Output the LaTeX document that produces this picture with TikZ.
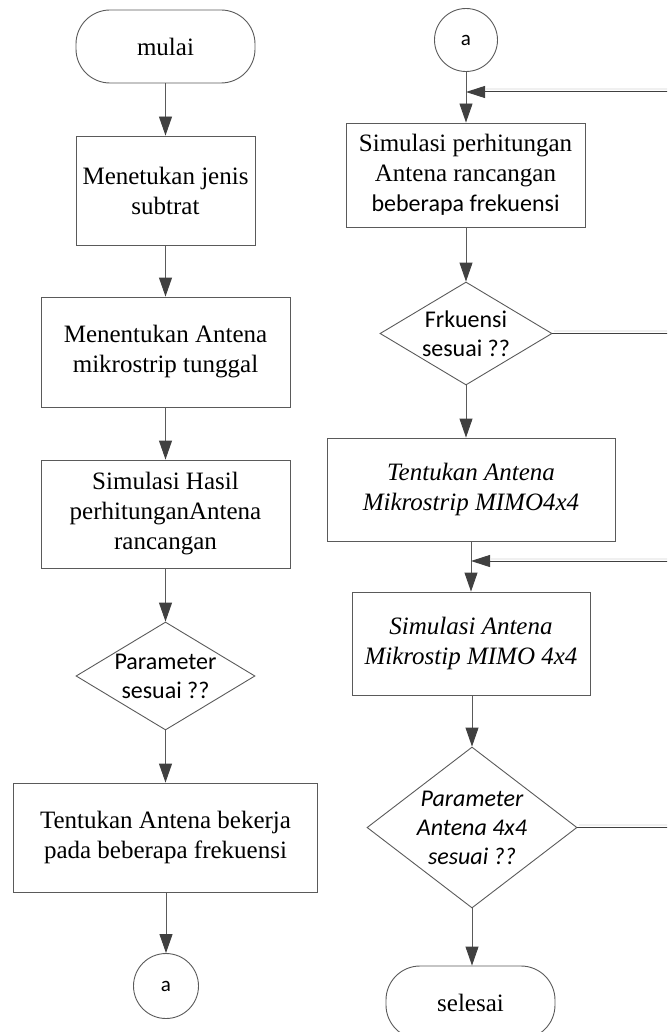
\documentclass[tikz,border=0pt]{standalone}
\usepackage{fontspec}
\setmainfont{Liberation Serif}
\newfontfamily\calf{Carlito}
\usetikzlibrary{shapes.geometric,arrows.meta}
\definecolor{lc}{HTML}{5A5A5A}
\definecolor{tc}{HTML}{404040}
\definecolor{shc}{HTML}{F0F0F0}
\begin{document}
\begin{tikzpicture}[x=1pt,y=-1pt,
  box/.style={draw=lc, line width=0.9pt, inner sep=0pt, align=center, font=\fontsize{25pt}{30pt}\selectfont},
  proc/.style={box, rectangle},
  term/.style={box, rectangle, rounded corners=34pt},
  dec/.style={box, diamond},
  conn/.style={box, circle, font=\calf\fontsize{21pt}{24pt}\selectfont},
  dtext/.style={draw=none, inner sep=0pt, align=center, font=\calf\fontsize{24pt}{29pt}\selectfont},
  arr/.style={draw=lc, line width=0.9pt, -{Triangle[length=19pt,width=13pt,color=tc]}},
  arrh/.style={draw=tc, line width=1pt, -{Triangle[length=19pt,width=12pt,color=tc]}},
  link/.style={draw=tc, line width=1pt},
  shline/.style={draw=shc, line width=2pt}
]
\useasboundingbox (0,0) rectangle (667,1032);
\clip (0,0) rectangle (667,1032);

% left column
\node[term, minimum width=179pt, minimum height=73pt] (mulai) at (165.5,46.5) {mulai};
\node[proc, minimum width=179pt, minimum height=109pt] (b1) at (165.5,190.5) {Menetukan jenis\\subtrat};
\node[proc, minimum width=249pt, minimum height=110pt] (b2) at (165.5,352) {Menentukan Antena\\mikrostrip tunggal};
\node[proc, minimum width=249pt, minimum height=108pt] (b3) at (165.5,514) {Simulasi Hasil\\perhitunganAntena\\rancangan};
\node[dec, minimum width=179pt, minimum height=108pt,
      label={[dtext]center:{Parameter\\sesuai ??}}] (d1) at (165.5,676) {};
\node[proc, minimum width=304pt, minimum height=109pt] (b4) at (165.5,837.5) {Tentukan Antena bekerja\\pada beberapa frekuensi};
\node[conn, minimum size=65pt] (ca) at (166,986) {a};

% right column
\node[conn, minimum size=63pt] (ra) at (466,40) {a};
\node[proc, minimum width=239pt, minimum height=104pt] (r1) at (465.5,175) {Simulasi perhitungan\\Antena rancangan\\{\calf\fontsize{24pt}{30pt}\selectfont beberapa frekuensi}};
\node[dec, minimum width=172pt, minimum height=103pt,
      label={[dtext]center:{Frkuensi\\sesuai ??}}] (rd1) at (466,333.5) {};
\node[proc, minimum width=288pt, minimum height=103pt] (r2) at (471,489.5) {\itshape Tentukan Antena\\\itshape Mikrostrip MIMO4x4};
\node[proc, minimum width=238pt, minimum height=103pt] (r3) at (471,643.5) {\itshape Simulasi Antena\\\itshape Mikrostip MIMO 4x4};
\node[dec, minimum width=210pt, minimum height=161pt,
      label={[dtext]center:{\itshape Parameter\\\itshape Antena 4x4\\\itshape sesuai ??}}] (rd2) at (472,827.5) {};
\node[term, minimum width=169pt, minimum height=73pt] (selesai) at (470.5,1002.5) {selesai};

% junctions and free ends
\coordinate (j1) at (466,92);
\coordinate (j2) at (471,561);
\coordinate (e1) at (668,92);
\coordinate (e2) at (668,333.5);
\coordinate (e3) at (668,561);
\coordinate (e4) at (668,827.5);

% faint shadows of the return lines
\draw[shline] ([xshift=20pt,yshift=2.5pt]j1) -- ([yshift=2.5pt]e1);
\draw[shline] ([xshift=2pt,yshift=2.5pt]rd1.east) -- ([yshift=2.5pt]e2);
\draw[shline] ([xshift=20pt,yshift=2.5pt]j2) -- ([yshift=2.5pt]e3);
\draw[shline] ([xshift=2pt,yshift=2.5pt]rd2.east) -- ([yshift=2.5pt]e4);

% left flow
\draw[arr] (mulai) -- (b1);
\draw[arr] (b1) -- (b2);
\draw[arr] (b2) -- (b3);
\draw[arr] (b3) -- (d1);
\draw[arr] (d1) -- (b4);
\draw[arr] (b4.south -| ca) -- (ca);

% right flow
\draw[arr] (ra.south) -- (r1.north -| ra);
\draw[arr] (r1.south -| rd1) -- (rd1.north);
\draw[arr] (rd1.south) -- (rd1.south |- r2.north);
\draw[arr] (r2.south) -- (r3.north);
\draw[arr] (r3.south -| rd2) -- (rd2.north);
\draw[arr] (rd2.south) -- (rd2.south |- selesai.north);

% return lines
\draw[arrh] (e1) -- (j1);
\draw[link] (rd1.east) -- (e2);
\draw[arrh] (e3) -- (j2);
\draw[link] (rd2.east) -- (e4);
\end{tikzpicture}
\end{document}
